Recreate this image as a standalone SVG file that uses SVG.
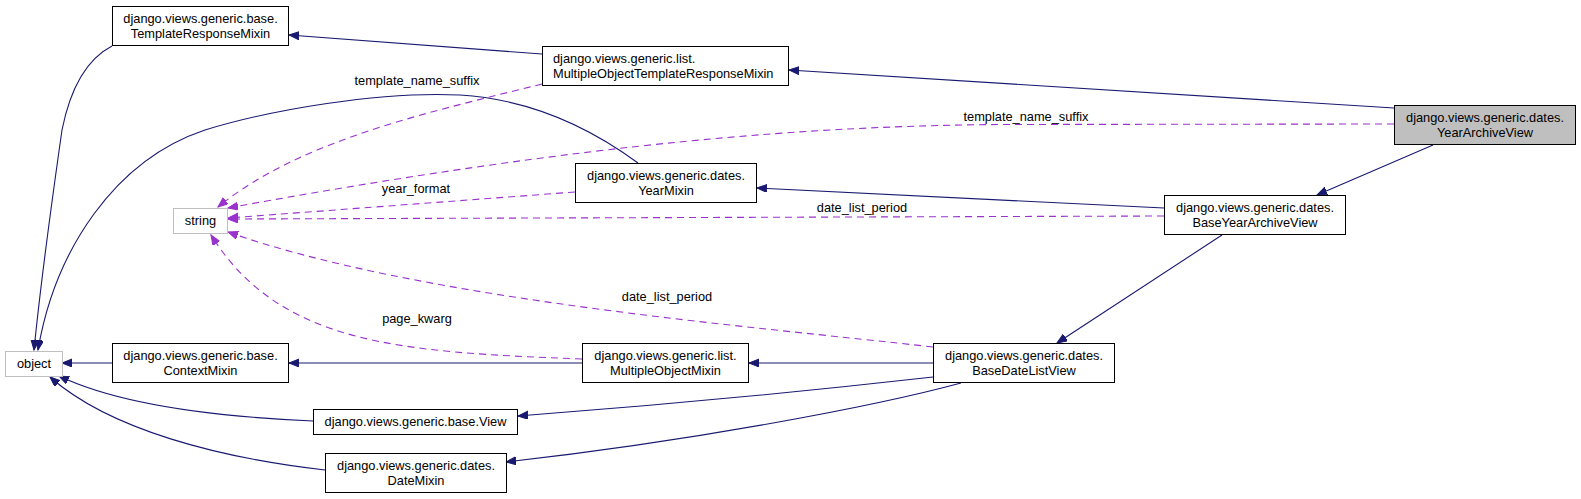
<svg xmlns="http://www.w3.org/2000/svg" width="1581" height="499" viewBox="0 0 1581 499">
<style>
.n rect{fill:#fff;stroke:#000;stroke-width:1}
.n.g rect{stroke:#bfbfbf}
.n.cur rect{fill:#bfbfbf}
text{font-family:"Liberation Sans",Arial,sans-serif;font-size:12.8px;fill:#000}
.c{text-anchor:middle}
.s{fill:none;stroke:#191970;stroke-width:1.1;marker-end:url(#an)}
.d{fill:none;stroke:#9a32cd;stroke-width:1.1;stroke-dasharray:7,5;marker-end:url(#ap)}
</style>
<defs>
<marker id="an" markerUnits="userSpaceOnUse" markerWidth="11" markerHeight="9" refX="10" refY="4" orient="auto"><path d="M0,0 L10,4 L0,8 z" fill="#191970" stroke="#191970"/></marker>
<marker id="ap" markerUnits="userSpaceOnUse" markerWidth="11" markerHeight="9" refX="10" refY="4" orient="auto"><path d="M0,0 L10,4 L0,8 z" fill="#9a32cd" stroke="#9a32cd"/></marker>
</defs>
<rect width="1581" height="499" fill="#fff"/>
<g id="edges">
<path class="s" d="M542,54 L289,35"/>
<path class="s" d="M1394,108 L789,70"/>
<path class="s" d="M1433,145 L1317,195"/>
<path class="s" d="M1164,208 L757,188"/>
<path class="s" d="M1222,235 L1057,343"/>
<path class="s" d="M933,363 L749,363"/>
<path class="s" d="M582,363 L289,363"/>
<path class="s" d="M112,363 L62,363"/>
<path class="s" d="M933,377 C800,392 650,406 518,416"/>
<path class="s" d="M961,383 C880,405 700,440 506,462"/>
<path class="s" d="M313,421 C220,417 120,405 59,376"/>
<path class="s" d="M325,470 C220,458 110,430 50,377"/>
<path class="s" d="M112,46 C85,60 70,90 62,130 C52,200 40,290 34,350"/>
<path class="s" d="M638,163 C600,135 540,100 460,95 C380,91 270,110 205,130 C115,160 55,250 38,350"/>
<path class="d" d="M542,84 C430,112 300,140 218,207"/>
<path class="d" d="M1394,124 L1000,124.5 C820,126 600,140 228,208"/>
<path class="d" d="M575,192 L228,218"/>
<path class="d" d="M1164,216 L228,219"/>
<path class="d" d="M933,347 C750,326 420,300 228,232"/>
<path class="d" d="M582,359 C400,352 280,345 211,235"/>
<text class="c" x="417" y="85">template_name_suffix</text>
<text class="c" x="1026" y="121">template_name_suffix</text>
<text class="c" x="416" y="193">year_format</text>
<text class="c" x="862" y="212">date_list_period</text>
<text class="c" x="667" y="301">date_list_period</text>
<text class="c" x="417" y="323">page_kwarg</text>
</g>
<g id="YearArchiveView" class="n cur"><rect x="1394.5" y="105.5" width="181" height="39"/><text class="c" x="1485" y="122">django.views.generic.dates.</text><text class="c" x="1485" y="137">YearArchiveView</text></g>
<g id="TemplateResponseMixin" class="n"><rect x="112.5" y="6.5" width="176" height="39"/><text class="c" x="200.5" y="23">django.views.generic.base.</text><text class="c" x="200.5" y="38">TemplateResponseMixin</text></g>
<g id="MultipleObjectTemplateResponseMixin" class="n"><rect x="542.5" y="46.5" width="246" height="39"/><text x="553" y="63">django.views.generic.list.</text><text x="553" y="78">MultipleObjectTemplateResponseMixin</text></g>
<g id="BaseYearArchiveView" class="n"><rect x="1164.5" y="195.5" width="181" height="39"/><text class="c" x="1255" y="212">django.views.generic.dates.</text><text class="c" x="1255" y="227">BaseYearArchiveView</text></g>
<g id="string" class="n g"><rect x="173.5" y="208.5" width="54" height="25"/><text class="c" x="200.5" y="225">string</text></g>
<g id="YearMixin" class="n"><rect x="575.5" y="163.5" width="181" height="39"/><text class="c" x="666" y="180">django.views.generic.dates.</text><text class="c" x="666" y="195">YearMixin</text></g>
<g id="object" class="n g"><rect x="5.5" y="351.5" width="57" height="25"/><text class="c" x="34" y="368">object</text></g>
<g id="ContextMixin" class="n"><rect x="112.5" y="343.5" width="176" height="39"/><text class="c" x="200.5" y="360">django.views.generic.base.</text><text class="c" x="200.5" y="375">ContextMixin</text></g>
<g id="MultipleObjectMixin" class="n"><rect x="582.5" y="343.5" width="166" height="39"/><text class="c" x="665.5" y="360">django.views.generic.list.</text><text class="c" x="665.5" y="375">MultipleObjectMixin</text></g>
<g id="BaseDateListView" class="n"><rect x="933.5" y="343.5" width="181" height="39"/><text class="c" x="1024" y="360">django.views.generic.dates.</text><text class="c" x="1024" y="375">BaseDateListView</text></g>
<g id="View" class="n"><rect x="313.5" y="409.5" width="204" height="25"/><text class="c" x="415.5" y="426">django.views.generic.base.View</text></g>
<g id="DateMixin" class="n"><rect x="325.5" y="453.5" width="181" height="39"/><text class="c" x="416" y="470">django.views.generic.dates.</text><text class="c" x="416" y="485">DateMixin</text></g>
</svg>
